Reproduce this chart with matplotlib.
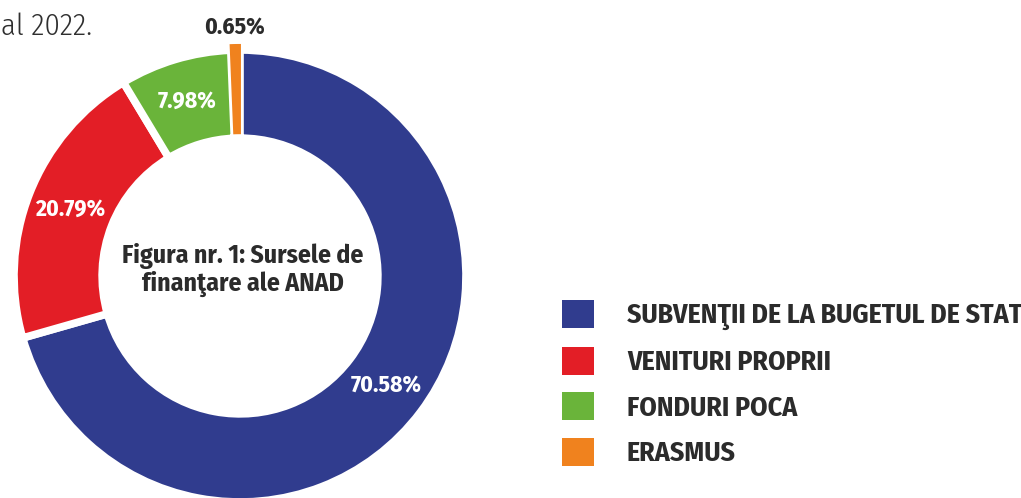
import numpy as np
import matplotlib
matplotlib.use("Agg")
import matplotlib.pyplot as plt
from matplotlib.patches import Patch

# data
categories = ["SUBVENŢII DE LA BUGETUL DE STAT", "VENITURI PROPRII", "FONDURI POCA", "ERASMUS"]
shares = [70.58, 20.79, 7.98, 0.65]
share_labels = ["70.58%", "20.79%", "7.98%", "0.65%"]
colors = ["#303c8e", "#e31e26", "#6ab43a", "#f0821e"]

FONT = ["Fira Sans Condensed", "DejaVu Sans"]
plt.rcParams["font.family"] = FONT
DARK = "#2b2b2b"

W, H = 1021, 498
fig = plt.figure(figsize=(W / 100, H / 100), dpi=100)
ax = fig.add_axes([0, 0, 1, 1])

# pie drawn in pixel units
cx, cy, R = 240, H - 276, 226
explode = [0, 0, 0, 5]
wedges, _ = ax.pie(
    shares, colors=colors, startangle=90, counterclock=False,
    radius=R, center=(cx, cy), explode=explode,
    wedgeprops=dict(width=R * 0.39, edgecolor="white", linewidth=5.5),
)
# the tiny slice keeps its own colour on the edge so it stays visible
wedges[3].set_edgecolor(colors[3])
wedges[3].set_linewidth(1.5)
ax.set_xlim(0, W)
ax.set_ylim(0, H)
ax.set_aspect("equal")
ax.axis("off")

# percentage labels
for i, w in enumerate(wedges):
    ang = np.deg2rad((w.theta1 + w.theta2) / 2)
    if i == 3:
        r, col = R * 1.10, DARK
    else:
        r, col = R * 0.81, "white"
    ax.text(cx + r * np.cos(ang), cy + r * np.sin(ang), share_labels[i],
            ha="center", va="center", color=col, fontsize=17, fontweight="bold")

# centre title
ax.text(cx + 3, H - 270, "Figura nr. 1: Sursele de\nfinanţare ale ANAD",
        ha="center", va="center", color=DARK, fontsize=18.5, fontweight="bold",
        linespacing=1.12)

# cut-off text from the page above
ax.text(1, H - 27, "al 2022.", ha="left", va="center", color="#2f2f2f",
        fontsize=22, fontweight=300)

handles = [Patch(facecolor=c, edgecolor="none") for c in colors]
fs = 20
fs_px = fs * 100 / 72
leg = ax.legend(handles, categories, loc="upper left",
                bbox_to_anchor=(562 / W, 1 - 300 / H),
                frameon=False,
                prop=dict(family=FONT, weight="bold", size=fs),
                handlelength=32 / fs_px, handleheight=32 / fs_px,
                handletextpad=33 / fs_px, labelspacing=0.6,
                borderpad=0, borderaxespad=0)
for t in leg.get_texts():
    t.set_color(DARK)

fig.savefig("out.png", dpi=100)
